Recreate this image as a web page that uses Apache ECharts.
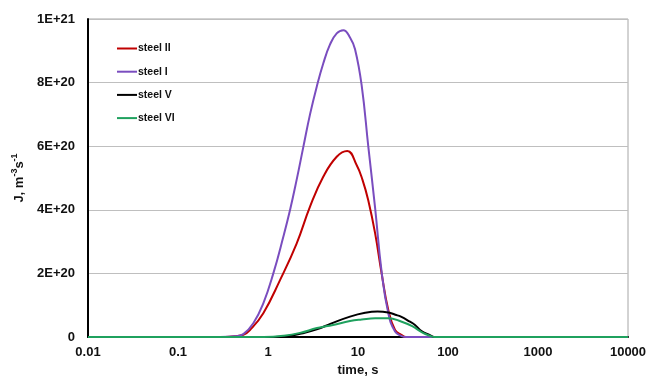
<!DOCTYPE html>
<html>
<head>
<meta charset="utf-8">
<script src="https://cdn.jsdelivr.net/npm/echarts@6/dist/echarts.min.js"></script>
<style>html,body{margin:0;padding:0;background:#fff;}#c{width:647px;height:376px;}</style>
</head>
<body>
<div id="c"></div>
<script>
// Data (time in s, J in units of 1E+20 m^-3 s^-1)
var seriesNames = ['steel II', 'steel I', 'steel V', 'steel VI'];
var tII = [0.01, 0.333, 0.427, 0.532, 0.631, 0.887, 1.36, 2.08, 2.93, 4.11, 5.80, 7.61, 9.68, 11.2, 13.0, 15.5, 18.3, 21.7, 25.8, 30.6, 34.1, 10000];
var vII = [0, 0, 0.02, 0.07, 0.22, 0.75, 1.79, 2.94, 4.1, 5.04, 5.67, 5.85, 5.4, 4.95, 4.3, 3.26, 2.0, 0.85, 0.22, 0.06, 0, 0];
var tI = [0.01, 0.293, 0.427, 0.532, 0.687, 0.887, 1.146, 1.48, 1.76, 2.08, 2.47, 2.93, 3.48, 4.11, 4.89, 5.80, 6.87, 8.15, 9.27, 11.0, 13.0, 15.5, 18.3, 21.7, 25.8, 30.6, 34.1, 10000];
var vI = [0, 0, 0.02, 0.09, 0.43, 1.06, 2.0, 3.15, 4.0, 4.94, 5.98, 7.0, 7.87, 8.6, 9.2, 9.55, 9.65, 9.42, 9.05, 7.9, 6.0, 4.05, 2.05, 0.75, 0.17, 0.03, 0, 0];
var tV = [0.01, 1.2, 1.6, 2.27, 3.48, 5.0, 8.15, 12.0, 16.5, 21.7, 26.0, 30.0, 37.8, 43.0, 48.9, 56.0, 63.1, 70, 10000];
var vV = [0, 0, 0.02, 0.1, 0.24, 0.42, 0.64, 0.76, 0.8, 0.77, 0.7, 0.64, 0.48, 0.38, 0.22, 0.12, 0.06, 0, 0];
var tVI = [0.01, 0.9, 1.5, 2.27, 3.5, 5.27, 8.15, 11.0, 15.5, 21.7, 30.6, 40.0, 52.7, 63.0, 70, 10000];
var vVI = [0, 0, 0.04, 0.13, 0.28, 0.38, 0.5, 0.55, 0.59, 0.59, 0.48, 0.34, 0.13, 0.04, 0, 0];
var xTickLabels = ['0.01', '0.1', '1', '10', '100', '1000', '10000'];
var yTickLabels = ['0', '2E+20', '4E+20', '6E+20', '8E+20', '1E+21'];
var colors = ['#c00000', '#7a4dbf', '#000000', '#1fa15e'];

function pairs(t, v) {
  var out = [];
  for (var i = 0; i < t.length; i++) out.push([t[i], v[i] * 1e20]);
  return out;
}
var allT = [tII, tI, tV, tVI];
var allV = [vII, vI, vV, vVI];

var chart = echarts.init(document.getElementById('c'), null, {renderer: 'canvas'});
var font = 'Liberation Sans, Arial, sans-serif';
var series = seriesNames.map(function (n, i) {
  return {
    name: n, type: 'line', data: pairs(allT[i], allV[i]),
    showSymbol: false, smooth: 0.45,
    lineStyle: {color: colors[i], width: 2}, itemStyle: {color: colors[i]}
  };
});
chart.setOption({
  animation: false,
  backgroundColor: '#fff',
  grid: {left: 88, right: 19, top: 19, bottom: 39, containLabel: false, outerBoundsMode: 'none',
         show: true, borderColor: '#a6a6a6', borderWidth: 1},
  legend: {
    orient: 'vertical', left: 112, top: 38, itemWidth: 20, itemHeight: 2, itemGap: 12.2,
    icon: 'rect',
    data: seriesNames,
    textStyle: {fontFamily: font, fontWeight: 'bold', fontSize: 10.5, color: '#111', padding: [0, 0, 0, -4]}
  },
  xAxis: {
    type: 'log', logBase: 10, min: 0.01, max: 10000,
    name: 'time, s', nameLocation: 'middle', nameGap: 25,
    nameTextStyle: {fontFamily: font, fontWeight: 'bold', fontSize: 13, color: '#111'},
    axisLine: {show: true, lineStyle: {color: '#000', width: 2}},
    axisTick: {show: false},
    splitLine: {show: false},
    axisLabel: {
      fontFamily: font, fontWeight: 'bold', fontSize: 13, color: '#111', margin: 9,
      formatter: function (v) {
        var k = Math.round(Math.log(v) / Math.LN10) + 2;
        return xTickLabels[k] !== undefined ? xTickLabels[k] : '';
      }
    }
  },
  yAxis: {
    type: 'value', min: 0, max: 1e21, interval: 2e20,
    name: '{a|J, m}{s|-3}{a|s}{s|-1}', nameLocation: 'middle', nameGap: 62, nameRotate: 90,
    nameTextStyle: {
      fontFamily: font, fontWeight: 'bold', fontSize: 13, color: '#111', padding: [0, 0, 0, 0],
      rich: {
        a: {fontFamily: font, fontWeight: 'bold', fontSize: 13, color: '#111', padding: [6, 0, 0, 0]},
        s: {fontFamily: font, fontWeight: 'bold', fontSize: 9, color: '#111', padding: [0, 0, 4, 0]}
      }
    },
    axisLine: {show: true, lineStyle: {color: '#000', width: 2}},
    axisTick: {show: false},
    splitLine: {show: true, lineStyle: {color: '#bfbfbf', width: 1}},
    axisLabel: {
      fontFamily: font, fontWeight: 'bold', fontSize: 13, color: '#111', margin: 13,
      formatter: function (v) {
        var k = Math.round(v / 2e20);
        return yTickLabels[k];
      }
    }
  },
  series: series
});
</script>
</body>
</html>
